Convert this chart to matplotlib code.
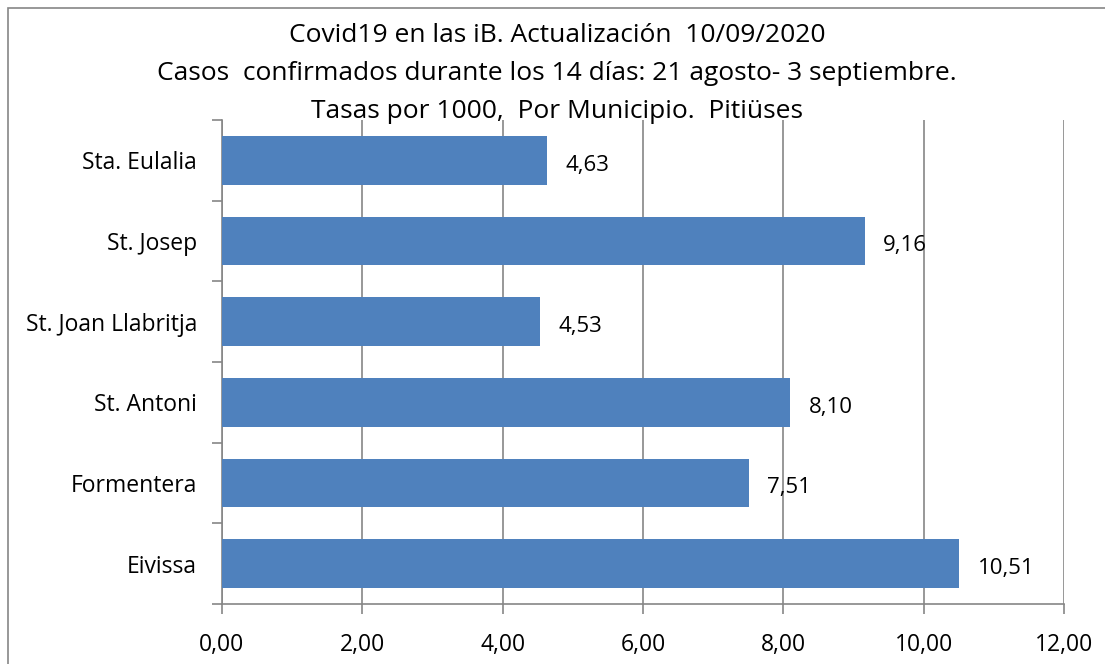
import numpy as np
import matplotlib.pyplot as plt
from matplotlib.patches import Rectangle

municipios = ['Eivissa', 'Formentera', 'St. Antoni', 'St. Joan Llabritja', 'St. Josep', 'Sta. Eulalia']
tasas = [10.51, 7.51, 8.10, 4.53, 9.16, 4.63]
xticks = [0, 2, 4, 6, 8, 10, 12]
titulo = ['Covid19 en las iB. Actualización  10/09/2020',
          'Casos  confirmados durante los 14 días: 21 agosto- 3 septiembre.',
          'Tasas por 1000,  Por Municipio.  Pitiüses']

plt.rcParams['font.family'] = ['Open Sans', 'DejaVu Sans']

W, H = 1105, 664
fig = plt.figure(figsize=(W / 100, H / 100), dpi=100)
ax = fig.add_axes([222 / W, 1 - 604 / H, (1064 - 222) / W, (604 - 120) / H])

# chart frame (right and bottom edges fall outside the picture)
fig.patches.append(Rectangle((8 / W, -0.1), 1.2, 1 - 8 / H + 0.1, transform=fig.transFigure,
                             fill=False, edgecolor='#868686', linewidth=1.2))

y = np.arange(len(municipios))
ax.barh(y, tasas, height=0.6, color='#4F81BD', zorder=3)
for yi, v in zip(y, tasas):
    ax.text(v + 0.26, yi - 0.06, '{:.2f}'.format(v).replace('.', ','), va='center', ha='left',
            fontsize=16, color='black', zorder=4)

ax.set_xlim(0, 12)
ax.set_ylim(-0.5, len(municipios) - 0.5)
ax.set_xticks(xticks)
ax.set_xticklabels(['{:.2f}'.format(t).replace('.', ',') for t in xticks], fontsize=16.5)
ax.set_yticks(y)
ax.set_yticklabels(municipios, fontsize=16.5)
ax.tick_params(axis='y', length=0, pad=18)
ax.set_yticks(np.arange(-0.5, len(municipios)), minor=True)
ax.tick_params(axis='y', which='minor', length=7, color='#868686', width=1.2)
ax.tick_params(axis='x', length=7, color='#868686', width=1.2, pad=14)
ax.grid(axis='x', color='#868686', linewidth=1.2, zorder=0)
for s in ['top', 'right']:
    ax.spines[s].set_visible(False)
for s in ['left', 'bottom']:
    ax.spines[s].set_color('#868686')
    ax.spines[s].set_linewidth(1.2)

for i, line in enumerate(titulo):
    fig.text(557 / W, 1 - (35 + 38.5 * i) / H, line, ha='center', va='center', fontsize=19)

fig.savefig('out.png', dpi=100)
